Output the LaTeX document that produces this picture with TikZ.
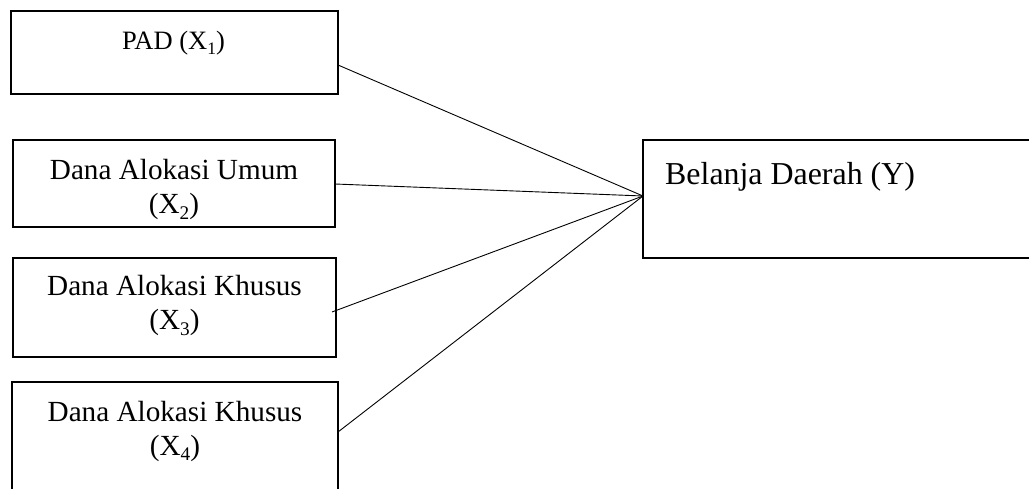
\documentclass[tikz,border=0pt]{standalone}
\usepackage{fontspec}
\setmainfont{Liberation Serif}
\newcommand{\sbx}[1]{\raisebox{-0.18em}{\scalebox{0.66}{#1}}}
\tikzset{
  boxnode/.style={draw=black, line width=1.4pt, inner sep=0pt, fill=none},
  link/.style={draw=black, line width=0.9pt},
  smalltext/.style={font=\fontsize{26.5}{32}\selectfont, inner sep=0pt},
  midtext/.style={font=\fontsize{29.2}{34}\selectfont, inner sep=0pt, align=center},
  bigtext/.style={font=\fontsize{31.9}{38}\selectfont, inner sep=0pt}
}
\begin{document}
\begin{tikzpicture}[x=1pt, y=-1pt]
\useasboundingbox (0,0) rectangle (1029,489);
% boxes
\node[boxnode, minimum width=327pt, minimum height=83pt] (b1) at (174.5,52.5) {};
\node[boxnode, minimum width=322pt, minimum height=87pt] (b2) at (174,183.5) {};
\node[boxnode, minimum width=323pt, minimum height=99pt] (b3) at (174.5,307.5) {};
\node[boxnode, minimum width=326pt, minimum height=130pt] (b4) at (175,447) {};
\node[boxnode, minimum width=420pt, minimum height=118pt] (y) at (853,199) {};
% texts
\node[smalltext, anchor=base] (t1) at (173.5,50) {PAD (X\sbx{1})};
\node[midtext, anchor=base] (t2) at (174,214) {Dana Alokasi Umum\\(X\sbx{2})};
\node[midtext, anchor=base] (t3) at (174.5,330) {Dana Alokasi Khusus\\(X\sbx{3})};
\node[midtext, anchor=base] (t4) at (175,455) {Dana Alokasi Khusus\\(X\sbx{4})};
\node[bigtext, anchor=base west] (ty) at (665,185) {Belanja Daerah (Y)};
% connector ends
\coordinate (s1) at (338,65);
\coordinate (s2) at (335,184);
\coordinate (s3) at (332,312);
\coordinate (s4) at (338,432);
\coordinate (m) at (643,196);
\draw[link] (s1) -- (m);
\draw[link] (s2) -- (m);
\draw[link] (s3) -- (m);
\draw[link] (s4) -- (m);
\end{tikzpicture}
\end{document}
